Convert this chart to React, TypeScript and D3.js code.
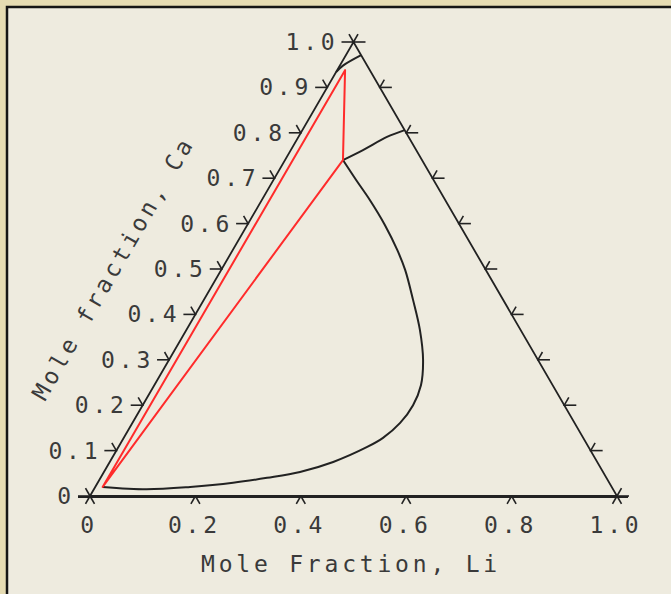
import React from "react";
import * as d3 from "d3";

// Composition axes: Li along the base, Ca toward the apex
const caTicks = [0, 0.1, 0.2, 0.3, 0.4, 0.5, 0.6, 0.7, 0.8, 0.9, 1.0];
const caTickLabels = ["0", "0.1", "0.2", "0.3", "0.4", "0.5", "0.6", "0.7", "0.8", "0.9", "1.0"];
const liTicks = [0, 0.2, 0.4, 0.6, 0.8, 1.0];
const liTickLabels = ["0", "0.2", "0.4", "0.6", "0.8", "1.0"];

// Two-phase boundary (mole fractions)
const boundaryLi = [0.014, 0.100, 0.180, 0.257, 0.316, 0.372, 0.424, 0.472, 0.492, 0.508, 0.513, 0.506, 0.482, 0.443, 0.397, 0.349, 0.312, 0.261, 0.205, 0.157, 0.110];
const boundaryCa = [0.020, 0.015, 0.020, 0.029, 0.040, 0.053, 0.075, 0.108, 0.128, 0.161, 0.200, 0.244, 0.300, 0.366, 0.432, 0.498, 0.542, 0.597, 0.652, 0.696, 0.740];

// Boundary running from the three-phase corner to the Li-Ca side
const upperLinkLi = [0.110, 0.137, 0.168, 0.194];
const upperLinkCa = [0.740, 0.762, 0.791, 0.806];

// Short boundary near the Ca apex
const apexLineLi = [0.0, 0.006, 0.029];
const apexLineCa = [0.934, 0.948, 0.971];

// Three-phase tie triangle
const tieLi = [0.014, 0.015, 0.110];
const tieCa = [0.020, 0.938, 0.740];

const W = 671;
const H = 594;
const FONT = "'DejaVu Sans Mono', 'Liberation Mono', monospace";
const INK = "#222";
const TEXT = "#3a3a3a";

export default function App() {
  // horizontal position = Li + Ca/2, vertical = Ca
  const sx = d3.scaleLinear().domain([0, 1]).range([90, 617]);
  const sy = d3.scaleLinear().domain([0, 1]).range([496, 42]);
  const px = (li: number, ca: number) => sx(li + ca / 2);
  const py = (ca: number) => sy(ca);
  const pt = (li: number, ca: number): [number, number] => [px(li, ca), py(ca)];

  const smooth = d3.line<[number, number]>().curve(d3.curveCatmullRom.alpha(0.5));
  const straight = d3.line<[number, number]>();

  const boundary = smooth(boundaryLi.map((l, i) => pt(l, boundaryCa[i])));
  const upperLink = smooth(upperLinkLi.map((l, i) => pt(l, upperLinkCa[i])));
  const apexLine = smooth(apexLineLi.map((l, i) => pt(l, apexLineCa[i])));
  const tie = straight(tieLi.map((l, i) => pt(l, tieCa[i]))) + "Z";

  const frame = straight([pt(0, 0), pt(0, 1), pt(1, 0)]) + "Z";

  const c60 = 0.5;
  const s60 = Math.sqrt(3) / 2;
  const tl = 12; // horizontal tick length
  const dl = 9; // slanted tick length

  const spacing = 3.8;

  // left title placement along the Ca side
  const along = 209;
  const off = 86;
  const base = pt(0, 0);
  const titleX = base[0] + along * c60 - off * s60;
  const titleY = base[1] - along * s60 - off * c60;

  return (
    <svg
      width={W}
      height={H}
      style={{ position: "absolute", left: 0, top: 0, display: "block" }}
    >
      <rect x={0} y={0} width={W} height={H} fill="#e5dbb2" />
      <rect x={7} y={7} width={W} height={H} fill="#eeebdf" />
      <path d={`M7,${H} V7 H${W}`} fill="none" stroke="#141414" strokeWidth={2.5} />

      {/* triangle sides */}
      <path d={frame} fill="none" stroke={INK} strokeWidth={1.8} />
      <line x1={78} x2={628} y1={sy(0) + 1} y2={sy(0) + 1} stroke={INK} strokeWidth={2} />

      {/* Ca side ticks and labels */}
      {caTicks.map((c, i) => {
        const x = px(0, c);
        const y = py(c);
        return (
          <g key={"ca" + i}>
            <line x1={x - tl} x2={x + 1} y1={y} y2={y} stroke={INK} strokeWidth={1.6} />
            <line x1={x} y1={y} x2={x - dl * c60} y2={y - dl * s60} stroke={INK} strokeWidth={1.6} />
            <text
              x={x - 15}
              y={y + 8}
              textAnchor="end"
              fontFamily={FONT}
              fontSize={23}
              letterSpacing={spacing}
              fill={TEXT}
            >
              {caTickLabels[i]}
            </text>
          </g>
        );
      })}

      {/* Li-Ca side ticks */}
      {caTicks.map((c, i) => {
        const x = px(1 - c, c);
        const y = py(c);
        return (
          <g key={"r" + i}>
            <line x1={x - 1} x2={x + tl} y1={y} y2={y} stroke={INK} strokeWidth={1.6} />
            <line x1={x} y1={y} x2={x + dl * c60} y2={y - dl * s60} stroke={INK} strokeWidth={1.6} />
          </g>
        );
      })}

      {/* Li base ticks and labels */}
      {liTicks.map((l, i) => {
        const x = px(l, 0);
        const y = py(0);
        return (
          <g key={"li" + i}>
            <line x1={x} y1={y} x2={x - dl * c60} y2={y + dl * s60} stroke={INK} strokeWidth={1.6} />
            <line x1={x} y1={y} x2={x + dl * c60} y2={y + dl * s60} stroke={INK} strokeWidth={1.6} />
            <text
              x={x - 1}
              y={y + 37}
              textAnchor="middle"
              fontFamily={FONT}
              fontSize={23}
              letterSpacing={spacing}
              fill={TEXT}
            >
              {liTickLabels[i]}
            </text>
          </g>
        );
      })}

      {/* phase boundaries */}
      <path d={boundary ?? ""} fill="none" stroke={INK} strokeWidth={2} />
      <path d={upperLink ?? ""} fill="none" stroke={INK} strokeWidth={2} />
      <path d={apexLine ?? ""} fill="none" stroke={INK} strokeWidth={2} />

      {/* tie triangle */}
      <path d={tie} fill="none" stroke="#ff2b2b" strokeWidth={2} strokeLinejoin="round" />

      {/* axis titles */}
      <text
        x={351}
        y={572}
        textAnchor="middle"
        fontFamily={FONT}
        fontSize={23}
        letterSpacing={spacing}
        fill={TEXT}
      >
        Mole Fraction, Li
      </text>
      <text
        x={titleX}
        y={titleY}
        transform={`rotate(-60 ${titleX} ${titleY})`}
        textAnchor="middle"
        fontFamily={FONT}
        fontSize={23}
        letterSpacing={spacing}
        fill={TEXT}
      >
        Mole fraction, Ca
      </text>
    </svg>
  );
}
